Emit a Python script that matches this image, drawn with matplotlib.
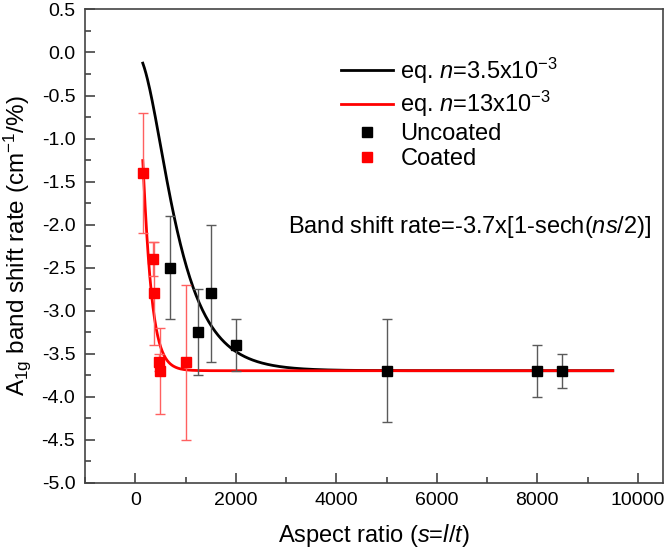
import numpy as np
import matplotlib
matplotlib.use("Agg")
import matplotlib.pyplot as plt
from matplotlib.ticker import MultipleLocator
from matplotlib.lines import Line2D

plt.rcParams["font.family"] = ["Liberation Sans", "DejaVu Sans"]
plt.rcParams["mathtext.fontset"] = "custom"
plt.rcParams["mathtext.rm"] = "Liberation Sans"
plt.rcParams["mathtext.it"] = "Liberation Sans:italic"
plt.rcParams["axes.unicode_minus"] = False

# uncoated samples
unc_s = [700, 1250, 1500, 2000, 5000, 8000, 8500]
unc_rate = [-2.5, -3.25, -2.8, -3.4, -3.7, -3.7, -3.7]
unc_err = [0.6, 0.5, 0.8, 0.3, 0.6, 0.3, 0.2]

# coated samples
coat_s = [150, 350, 380, 480, 500, 1000]
coat_rate = [-1.4, -2.4, -2.8, -3.6, -3.7, -3.6]
coat_err = [0.7, 0.2, 0.6, 0.1, 0.5, 0.9]

# model: rate = A * [1 - sech(n s / 2)]
amp = -3.7
n_uncoated = 3.5e-3
n_coated = 13e-3
s_curve = np.linspace(150, 9500, 600)


def model(s, n):
    return amp * (1 - 1 / np.cosh(n * s / 2))


fig = plt.figure(figsize=(6.66, 5.49), dpi=100)
ax = fig.add_axes([0.1276, 0.1211, 0.8679, 0.8616])

ax.plot(s_curve, model(s_curve, n_uncoated), color="black", lw=2, zorder=3)
ax.plot(s_curve, model(s_curve, n_coated), color="red", lw=2, zorder=3)

ax.errorbar(unc_s, unc_rate, yerr=unc_err, fmt="s", color="black", ms=7,
            ecolor="#5a5a5a", elinewidth=1, capsize=3.5, capthick=1, zorder=4)
ax.errorbar(coat_s, coat_rate, yerr=coat_err, fmt="s", color="red", ms=7,
            ecolor="#ff6060", elinewidth=1, capsize=3.5, capthick=1, zorder=4)

ax.set_xlim(-1000, 10500)
ax.set_ylim(-5.0, 0.5)
ax.xaxis.set_major_locator(MultipleLocator(2000))
ax.xaxis.set_minor_locator(MultipleLocator(1000))
ax.yaxis.set_major_locator(MultipleLocator(0.5))
ax.yaxis.set_minor_locator(MultipleLocator(0.25))
ax.yaxis.set_major_formatter(plt.FormatStrFormatter("%.1f"))
ax.tick_params(which="both", direction="in", colors="#444444",
               labelcolor="black", labelsize=14, width=1.2)
ax.tick_params(which="major", length=7)
ax.tick_params(which="minor", length=4)
ax.tick_params(axis="x", which="major", pad=7)
ax.tick_params(axis="y", which="major", pad=7)
for sp in ax.spines.values():
    sp.set_color("#444444")
    sp.set_linewidth(1.2)

ax.set_xlabel("Aspect ratio ($s$=$l$/$t$)", fontsize=17, labelpad=9)
ax.set_ylabel("A$_{\\mathrm{1g}}$ band shift rate (cm$^{-1}$/%)", fontsize=17.5,
              labelpad=6)

handles = [
    Line2D([], [], color="black", lw=2),
    Line2D([], [], color="red", lw=2),
    Line2D([], [], color="black", marker="s", ls="none", ms=7),
    Line2D([], [], color="red", marker="s", ls="none", ms=7),
]
labels = [
    "eq. $n$=3.5x10$^{-3}$",
    "eq. $n$=13x10$^{-3}$",
    "Uncoated",
    "Coated",
]
ax.legend(handles, labels, loc="upper left", bbox_to_anchor=(0.427, 0.923),
          frameon=False, fontsize=17, handlelength=2.2, labelspacing=0.15,
          handletextpad=0.3, borderaxespad=0)

ax.text(0.351, 0.54, "Band shift rate=-3.7x[1-sech($ns$/2)]",
        transform=ax.transAxes, fontsize=17, va="center")

fig.savefig("out.png", dpi=100)
